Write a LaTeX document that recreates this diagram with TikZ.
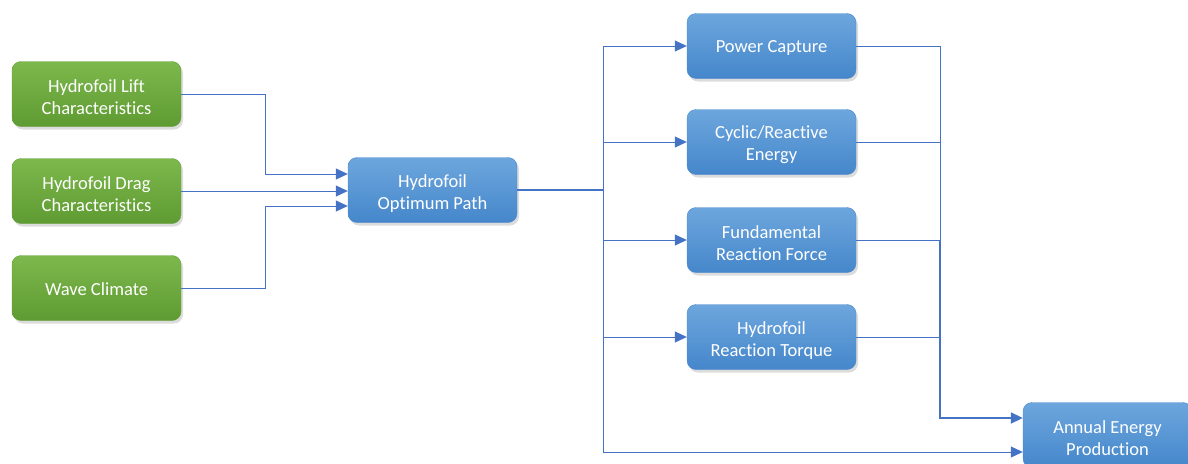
\documentclass[tikz,border=0pt]{standalone}
\usepackage{fontspec}
\setmainfont{Carlito}[Ligatures=NoCommon]
\usetikzlibrary{arrows.meta,shadows,calc}
\definecolor{gtop}{HTML}{7DB84C}
\definecolor{gbot}{HTML}{5E9B32}
\definecolor{gline}{HTML}{639F37}
\definecolor{btop}{HTML}{6DA6DD}
\definecolor{bbot}{HTML}{4587CB}
\definecolor{bline}{HTML}{4A8ACD}
\definecolor{conncol}{HTML}{4472C4}
\tikzset{
  box/.style={rounded corners=9pt, minimum width=169pt, minimum height=65pt,
    align=center, text=white, font=\fontsize{18.5}{22}\selectfont,
    drop shadow={shadow xshift=2pt, shadow yshift=-3pt, opacity=0.28}},
  oneline/.style={execute at begin node={\rule{0pt}{16pt}}},
  twoline/.style={execute at begin node={\rule{0pt}{41pt}}},
  gbox/.style={box, top color=gtop, bottom color=gbot, draw=gline, line width=0.4pt},
  bbox/.style={box, top color=btop, bottom color=bbot, draw=bline, line width=0.4pt},
  conn/.style={draw=conncol, line width=1pt},
  arr/.style={conn, -{Triangle[length=12pt,width=11pt]}},
  thick conn/.style={draw=conncol, line width=1.8pt}
}
\begin{document}
\begin{tikzpicture}[x=1pt,y=-1pt]
\useasboundingbox (0,0) rectangle (1188,463);
\clip (0,0) rectangle (1188,463);
% left inputs
\node[gbox,twoline] (g1) at (96.5,94) {Hydrofoil Lift\\Characteristics};
\node[gbox,twoline] (g2) at (96.5,191) {Hydrofoil Drag\\Characteristics};
\node[gbox,oneline] (g3) at (96.5,288) {Wave Climate};
% center
\node[bbox,twoline] (hp) at (432.5,190) {Hydrofoil\\Optimum Path};
% right outputs
\node[bbox,oneline] (pc) at (771.5,46) {Power Capture};
\node[bbox,twoline] (cr) at (771.5,142) {Cyclic/Reactive\\Energy};
\node[bbox,twoline] (fr) at (771.5,240) {Fundamental\\Reaction Force};
\node[bbox,twoline] (rt) at (771.5,337) {Hydrofoil\\Reaction Torque};
\node[bbox,twoline] (ae) at (1107.5,435) {Annual Energy\\Production};
% inputs to center
\coordinate (in1) at ([yshift=16pt]hp.west);
\coordinate (in3) at ([yshift=-16pt]hp.west);
\coordinate (lx) at (265,0);
\draw[arr] (g1.east) -| (lx |- g1.east) |- (in1);
\draw[arr] (g2.east) -- (g2.east -| hp.west);
\draw[arr] (g3.east) -| (lx |- g3.east) |- (in3);
% trunk
\coordinate (trunk) at (603,190);
\coordinate (tTop) at (603,46);
\coordinate (tBot) at (603,452);
\draw[thick conn] (hp.east) -- (trunk);
\draw[conn] (tTop) -- (tBot);
\draw[arr] (trunk |- pc.west) -- (pc.west);
\draw[arr] (trunk |- cr.west) -- (cr.west);
\draw[arr] (trunk |- fr.west) -- (fr.west);
\draw[arr] (trunk |- rt.west) -- (rt.west);
\draw[arr] (tBot) -- (tBot -| ae.west);
% collectors
\coordinate (rx) at (940,0);
\coordinate (aein) at ([yshift=17pt]ae.west);
\draw[conn] (pc.east) -- (rx |- pc.east) -- (rx |- fr.east);
\draw[conn] (cr.east) -- (rx |- cr.east);
\draw[conn] (fr.east) -- (rx |- fr.east);
\draw[conn] (rt.east) -- (rx |- rt.east);
\draw[thick conn, -{Triangle[length=12pt,width=11pt]}] (rx |- fr.east) -- (rx |- aein) -- (aein);
\end{tikzpicture}
\end{document}
